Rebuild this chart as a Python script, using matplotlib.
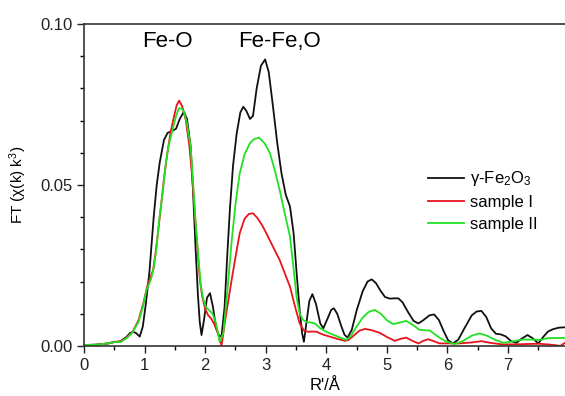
import matplotlib
matplotlib.use('Agg')
import matplotlib.pyplot as plt
from matplotlib.ticker import MultipleLocator

plt.rcParams['font.family'] = ['Liberation Sans', 'DejaVu Sans']
plt.rcParams['mathtext.fontset'] = 'custom'
plt.rcParams['mathtext.rm'] = 'Liberation Sans'
plt.rcParams['mathtext.it'] = 'Liberation Sans:italic'

# gamma-Fe2O3 reference
r_ref = [0.0, 0.2, 0.4, 0.5, 0.6, 0.7, 0.76, 0.81, 0.86, 0.92, 0.97, 1.02, 1.08, 1.15, 1.20,
         1.25, 1.32, 1.38, 1.45, 1.52, 1.58, 1.65, 1.70, 1.76, 1.80, 1.84, 1.88, 1.91, 1.94,
         1.98, 2.03, 2.08, 2.13, 2.18, 2.23, 2.27, 2.32, 2.37, 2.41, 2.46, 2.52, 2.58, 2.63,
         2.68, 2.74, 2.79, 2.85, 2.92, 2.99, 3.05, 3.12, 3.19, 3.26, 3.33, 3.40, 3.46, 3.51,
         3.56, 3.60, 3.63, 3.67, 3.72, 3.77, 3.83, 3.90, 3.95, 4.02, 4.08, 4.125, 4.18, 4.25,
         4.30, 4.35, 4.42, 4.50, 4.60, 4.68, 4.75, 4.82, 4.90, 4.97, 5.05, 5.12, 5.19, 5.26,
         5.35, 5.44, 5.52, 5.60, 5.70, 5.78, 5.86, 5.94, 6.01, 6.09, 6.18, 6.28, 6.40, 6.48,
         6.56, 6.64, 6.72, 6.80, 6.88, 6.96, 7.05, 7.14, 7.22, 7.32, 7.40, 7.50, 7.58, 7.66,
         7.74, 7.84, 7.94]
ft_ref = [0.0003, 0.0004, 0.0008, 0.0012, 0.0014, 0.0028, 0.0040, 0.0044, 0.0040, 0.0029,
          0.0060, 0.0130, 0.0230, 0.0400, 0.0500, 0.0570, 0.0640, 0.0662, 0.0667, 0.0675,
          0.0705, 0.0728, 0.0705, 0.0620, 0.0480, 0.0310, 0.0160, 0.0075, 0.0034, 0.0080,
          0.0150, 0.0164, 0.0120, 0.0055, 0.0032, 0.0030, 0.0120, 0.0300, 0.0430, 0.0560,
          0.0660, 0.0725, 0.0743, 0.0730, 0.0705, 0.0715, 0.0800, 0.0870, 0.0890, 0.0850,
          0.0743, 0.0630, 0.0536, 0.0470, 0.0433, 0.0350, 0.0226, 0.0110, 0.0040, 0.0013,
          0.0070, 0.0140, 0.0161, 0.0130, 0.0070, 0.0055, 0.0085, 0.0112, 0.0117, 0.0100,
          0.0060, 0.0035, 0.0026, 0.0050, 0.0110, 0.0170, 0.0200, 0.0207, 0.0195, 0.0170,
          0.0152, 0.0147, 0.0148, 0.0148, 0.0135, 0.0105, 0.0078, 0.0070, 0.0080, 0.0095,
          0.0098, 0.0080, 0.0045, 0.0018, 0.0008, 0.0020, 0.0055, 0.0095, 0.0107, 0.0109,
          0.0090, 0.0055, 0.0038, 0.0036, 0.0030, 0.0015, 0.0010, 0.0022, 0.0034, 0.0025,
          0.0008, 0.0028, 0.0045, 0.0052, 0.0057, 0.0058]

# sample I
r_s1 = [0.0, 0.2, 0.4, 0.5, 0.6, 0.7, 0.8, 0.9, 0.98, 1.05, 1.10, 1.14, 1.18, 1.22, 1.27,
        1.32, 1.375, 1.43, 1.485, 1.53, 1.57, 1.62, 1.68, 1.74, 1.79, 1.83, 1.87, 1.91, 1.95,
        2.00, 2.05, 2.10, 2.15, 2.20, 2.24, 2.27, 2.33, 2.41, 2.49, 2.57, 2.65, 2.72, 2.79,
        2.86, 2.94, 3.01, 3.12, 3.23, 3.31, 3.40, 3.48, 3.56, 3.63, 3.70, 3.77, 3.84, 3.95,
        4.06, 4.18, 4.31, 4.36, 4.45, 4.55, 4.64, 4.75, 4.88, 5.00, 5.13, 5.22, 5.32, 5.42,
        5.52, 5.60, 5.68, 5.76, 5.87, 6.0, 6.2, 6.4, 6.56, 6.7, 6.9, 7.1, 7.3, 7.5, 7.65,
        7.8, 7.86, 7.94]
ft_s1 = [0.0003, 0.0004, 0.0008, 0.0013, 0.0014, 0.0025, 0.0043, 0.0080, 0.0133, 0.0190,
         0.0215, 0.0235, 0.0288, 0.0350, 0.0433, 0.0520, 0.0598, 0.0665, 0.0712, 0.0748,
         0.0762, 0.0745, 0.0702, 0.0620, 0.0516, 0.0410, 0.0310, 0.0210, 0.0155, 0.0115,
         0.0095, 0.0085, 0.0068, 0.0045, 0.0020, 0.0001, 0.0080, 0.0174, 0.0265, 0.0350,
         0.0395, 0.0410, 0.0412, 0.0398, 0.0375, 0.0350, 0.0308, 0.0267, 0.0228, 0.0184,
         0.0125, 0.0070, 0.0048, 0.0044, 0.0045, 0.0044, 0.0035, 0.0029, 0.0022, 0.0016,
         0.0018, 0.0032, 0.0048, 0.0053, 0.0049, 0.0041, 0.0028, 0.0016, 0.0022, 0.0026,
         0.0016, 0.0008, 0.0016, 0.0021, 0.0016, 0.0008, 0.0008, 0.0008, 0.0011, 0.0015,
         0.0010, 0.0005, 0.0005, 0.0006, 0.0007, 0.0005, 0.0002, 0.0000, 0.0010]

# sample II
r_s2 = [0.0, 0.2, 0.4, 0.5, 0.6, 0.7, 0.8, 0.9, 0.97, 1.03, 1.07, 1.11, 1.155, 1.20, 1.24,
        1.30, 1.35, 1.40, 1.46, 1.52, 1.57, 1.61, 1.65, 1.70, 1.76, 1.80, 1.84, 1.89, 1.93,
        1.97, 2.01, 2.06, 2.12, 2.18, 2.24, 2.30, 2.37, 2.44, 2.50, 2.57, 2.65, 2.74, 2.81,
        2.89, 2.98, 3.07, 3.15, 3.23, 3.31, 3.40, 3.46, 3.51, 3.56, 3.61, 3.67, 3.74, 3.81,
        3.90, 4.00, 4.15, 4.33, 4.40, 4.50, 4.60, 4.70, 4.80, 4.90, 5.00, 5.10, 5.20, 5.32,
        5.43, 5.54, 5.62, 5.71, 5.80, 5.90, 5.99, 6.12, 6.25, 6.40, 6.53, 6.65, 6.80, 6.92,
        7.05, 7.15, 7.25, 7.40, 7.52, 7.65, 7.80, 7.94]
ft_s2 = [0.0003, 0.0004, 0.0008, 0.0012, 0.0012, 0.0024, 0.0042, 0.0075, 0.0120, 0.0174,
         0.0190, 0.0210, 0.0246, 0.0310, 0.0390, 0.0480, 0.0567, 0.0625, 0.0670, 0.0715,
         0.0738, 0.0738, 0.0728, 0.0690, 0.0620, 0.0510, 0.0390, 0.0270, 0.0184, 0.0145,
         0.0122, 0.0112, 0.0101, 0.0070, 0.0013, 0.0040, 0.0180, 0.0330, 0.0440, 0.0536,
         0.0595, 0.0630, 0.0643, 0.0647, 0.0630, 0.0598, 0.0545, 0.0484, 0.0415, 0.0340,
         0.0240, 0.0150, 0.0101, 0.0082, 0.0075, 0.0073, 0.0070, 0.0055, 0.0044, 0.0032,
         0.0019, 0.0030, 0.0060, 0.0088, 0.0106, 0.0112, 0.0100, 0.0080, 0.0068, 0.0072,
         0.0078, 0.0065, 0.0050, 0.0049, 0.0048, 0.0035, 0.0022, 0.0013, 0.0006, 0.0015,
         0.0032, 0.0039, 0.0032, 0.0018, 0.0010, 0.0013, 0.0017, 0.0020, 0.0020, 0.0019,
         0.0024, 0.0025, 0.0025]

fig = plt.figure(figsize=(5.65, 3.96), dpi=100)
ax = fig.add_axes([0.1487, 0.1263, 0.8513, 0.8131])

ax.plot(r_ref, ft_ref, color='#111111', lw=1.3, label=r'γ-Fe$_2$O$_3$')
ax.plot(r_s1, ft_s1, color='#e8141c', lw=1.3, label='sample I')
ax.plot(r_s2, ft_s2, color='#22e022', lw=1.3, label='sample II')

ax.set_xlim(0, 7.94)
ax.set_ylim(0, 0.10)
ax.xaxis.set_major_locator(MultipleLocator(1))
ax.xaxis.set_minor_locator(MultipleLocator(0.5))
ax.yaxis.set_major_locator(MultipleLocator(0.05))
ax.yaxis.set_minor_locator(MultipleLocator(0.01))
ax.yaxis.set_major_formatter(plt.FormatStrFormatter('%.2f'))
ax.tick_params(which='major', direction='out', length=5, width=1, labelsize=12, colors='#222222')
ax.tick_params(which='minor', direction='out', length=3, width=1)
ax.spines['right'].set_visible(False)
for s in ['left', 'bottom', 'top']:
    ax.spines[s].set_linewidth(1.2)
    ax.spines[s].set_color('#333333')

ax.set_xlabel("R'/Å", fontsize=12, labelpad=4)
ax.set_ylabel(r'FT (χ(k) k$^3$)', fontsize=11, labelpad=8)

ax.text(1.378, 0.0929, 'Fe-O', fontsize=16, ha='center', va='baseline')
ax.text(3.23, 0.0929, 'Fe-Fe,O', fontsize=16, ha='center', va='baseline')

ax.legend(loc='upper left', bbox_to_anchor=(0.757, 0.572), bbox_transform=fig.transFigure,
          frameon=False, fontsize=12, handlelength=2.2, handletextpad=0.36, labelspacing=0.4,
          borderaxespad=0, borderpad=0)

fig.savefig('out.png', dpi=100)
